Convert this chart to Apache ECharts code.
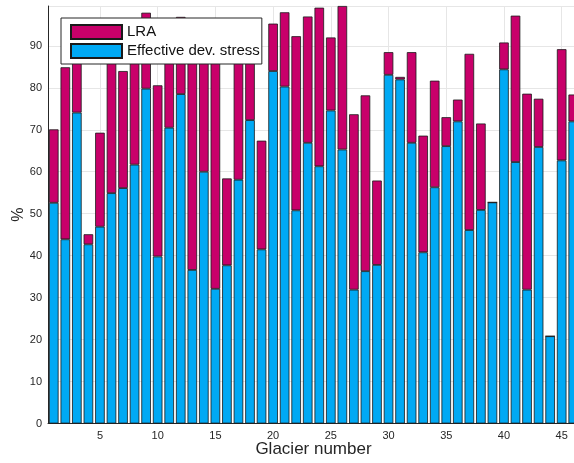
<!DOCTYPE html>
<html>
<head>
<meta charset="utf-8">
<script src="https://cdn.jsdelivr.net/npm/echarts@6/dist/echarts.min.js"></script>
<style>
html,body{margin:0;padding:0;background:#fff;}
#chart{width:574px;height:463px;}
</style>
</head>
<body>
<div id="chart"></div>
<script>
const glaciers = Array.from({length: 46}, (_, i) => String(i + 1));
const effectiveDevStress = [52.6, 43.9, 74.1, 42.7, 46.9, 54.9, 56.1, 61.7, 79.8, 39.8,
  70.5, 78.5, 36.6, 60.0, 32.1, 37.7, 58.1, 72.3, 41.5, 84.0,
  80.3, 50.8, 66.9, 61.3, 74.6, 65.3, 31.9, 36.3, 37.8, 83.1,
  82.0, 66.9, 40.8, 56.3, 66.1, 72.0, 46.1, 50.9, 52.7, 84.4,
  62.3, 31.9, 65.9, 20.8, 62.7, 72.0];
const lra = [17.5, 41.0, 14.9, 2.4, 22.4, 37.1, 27.9, 32.3, 18.1, 40.8,
  19.5, 18.4, 56.4, 35.0, 58.9, 20.7, 29.9, 21.7, 25.9, 11.3,
  17.7, 41.5, 30.1, 37.8, 17.4, 34.2, 41.8, 41.9, 20.1, 5.4,
  0.6, 21.6, 27.8, 25.4, 6.9, 5.2, 42.0, 20.6, 0, 6.4,
  34.9, 46.7, 11.5, 0, 26.5, 6.4];
const yTicks = [0, 10, 20, 30, 40, 50, 60, 70, 80, 90];
const xTickLabels = ['5', '10', '15', '20', '25', '30', '35', '40', '45'];

const chart = echarts.init(document.getElementById('chart'));
const font = 'Liberation Sans, Arial, Helvetica, sans-serif';
const txt = '#262626';
chart.setOption({
  animation: false,
  backgroundColor: '#fff',
  grid: {left: 48, right: -5, top: 6, bottom: 39.5, containLabel: false, outerBoundsMode: 'none'},
  legend: {
    data: ['LRA', 'Effective dev. stress'],
    orient: 'vertical',
    left: 61, top: 18,
    padding: [6, 2, 5, 9],
    itemWidth: 51, itemHeight: 14, itemGap: 3,
    icon: 'rect',
    backgroundColor: '#fff',
    borderColor: '#262626', borderWidth: 1,
    textStyle: {fontFamily: font, fontSize: 15, color: '#111'}
  },
  xAxis: [{
    type: 'category',
    data: glaciers,
    boundaryGap: true,
    axisLine: {show: true, lineStyle: {color: txt, width: 1}},
    axisTick: {show: false},
    axisLabel: {
      interval: 0,
      formatter: v => xTickLabels.includes(v) ? v : '',
      fontFamily: font, fontSize: 11, color: txt, margin: 7
    },
    splitLine: {show: false},
    name: 'Glacier number',
    nameLocation: 'middle',
    nameMoveOverlap: false,
    nameGap: 17,
    nameTextStyle: {fontFamily: font, fontSize: 17, color: txt}
  }, {
    type: 'value',
    min: 0.5, max: 46.5,
    position: 'top',
    show: true,
    axisLine: {show: false}, axisTick: {show: false}, axisLabel: {show: false},
    splitNumber: 9,
    splitLine: {show: true, lineStyle: {color: '#e6e6e6', width: 1}}
  }],
  yAxis: {
    type: 'value',
    min: 0, max: 99.5, interval: 10,
    axisLine: {show: true, lineStyle: {color: txt, width: 1}},
    axisTick: {show: false},
    axisLabel: {
      formatter: v => yTicks.includes(v) ? String(v) : '',
      fontFamily: font, fontSize: 11, color: txt, margin: 6
    },
    splitLine: {show: true, lineStyle: {color: '#e6e6e6', width: 1}},
    name: '%',
    nameLocation: 'middle',
    nameMoveOverlap: false,
    nameGap: 21,
    nameRotate: 90,
    nameTextStyle: {fontFamily: font, fontSize: 16, color: txt}
  },
  series: [{
    name: 'Effective dev. stress',
    type: 'bar',
    stack: 'total',
    xAxisIndex: 0,
    data: effectiveDevStress,
    barCategoryGap: '17%',
    itemStyle: {color: '#00a9f4', borderColor: '#1a1a1a', borderWidth: 0.8}
  }, {
    name: 'LRA',
    type: 'bar',
    stack: 'total',
    xAxisIndex: 0,
    data: lra,
    barCategoryGap: '17%',
    itemStyle: {color: '#c8006a', borderColor: '#1a1a1a', borderWidth: 0.8}
  }]
});
</script>
</body>
</html>
